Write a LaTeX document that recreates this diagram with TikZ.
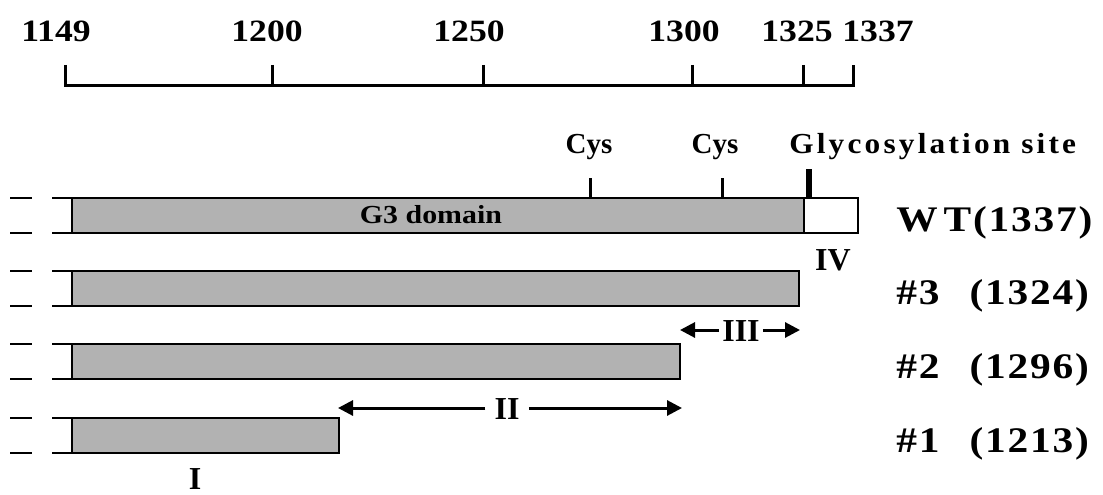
\documentclass[tikz,border=0pt]{standalone}
\usepackage{fontspec}
\setmainfont{Liberation Serif}
\newfontfamily\stretchfont{Liberation Serif}[FakeStretch=1.15]
\newfontfamily\trackfont{Liberation Serif}[FakeStretch=1.15,LetterSpace=5]
\newfontfamily\glycfont{Liberation Serif}[FakeStretch=1.08,LetterSpace=11]
\usetikzlibrary{arrows.meta}
\definecolor{barfill}{RGB}{178,178,178}
\begin{document}
\begin{tikzpicture}[x=1pt,y=-1pt,line width=2.6pt,
  toplbl/.style={font=\fontsize{31}{31}\selectfont\bfseries\stretchfont,anchor=base,inner sep=0pt},
  cyslbl/.style={font=\fontsize{29}{29}\selectfont\bfseries,anchor=base,inner sep=0pt},
  glyclbl/.style={font=\fontsize{29}{29}\selectfont\bfseries\glycfont,anchor=base west,inner sep=0pt},
  domlbl/.style={font=\fontsize{26}{26}\selectfont\bfseries\stretchfont,anchor=base,inner sep=0pt},
  rightlbl/.style={font=\fontsize{36}{36}\selectfont\bfseries\trackfont,anchor=base west,inner sep=0pt},
  romlbl/.style={font=\fontsize{32}{32}\selectfont\bfseries,anchor=base,inner sep=0pt},
  bar/.style={draw=black,fill=barfill},
  tail/.style={draw=black},
  dashmark/.style={draw=black},
  arr/.style={line width=3pt,-{Triangle[length=15pt,width=15pt]}}]
\useasboundingbox (0,0) rectangle (1103,495);
% scale
\draw[line width=3pt] (65,65) -- (65,85) -- (853,85) -- (853,65);
\foreach \x in {272,483,692,803} \draw[line width=3pt] (\x,65) -- (\x,85);
\node[toplbl] (l1149) at (56,42) {1149};
\node[toplbl] (l1200) at (267,42) {1200};
\node[toplbl] (l1250) at (469,42) {1250};
\node[toplbl] (l1300) at (684,42) {1300};
\node[toplbl] (l1325) at (797,42) {1325};
\node[toplbl] (l1337) at (878,42) {1337};
% site labels and ticks
\node[cyslbl] (cys1) at (589,153) {Cys};
\node[cyslbl] (cys2) at (715,153) {Cys};
\node[glyclbl] (glyc) at (788,153) {Glycosylation site};
\draw[line width=3pt] (590,178) -- (590,198);
\draw[line width=3pt] (722,178) -- (722,198);
\draw[line width=6pt] (809,169) -- (809,198);
% bars
\foreach \t/\b/\r in {198/233/804, 271/306/799, 344/379/680, 418/453/339}{
  \draw[dashmark] (10,\t) -- (32,\t);
  \draw[dashmark] (10,\b) -- (32,\b);
  \draw[tail] (52,\t) -- (72,\t);
  \draw[tail] (52,\b) -- (72,\b);
  \draw[bar] (72,\t) rectangle (\r,\b);
}
\draw[draw=black,fill=white] (804,198) rectangle (858,233);
\node[domlbl] (g3) at (431,223) {G3 domain};
% right labels
\node[rightlbl] (wt) at (895,231) {W\hspace{6pt}T(1337)};
\node[rightlbl] (m3) at (895,304) {\#3\hspace{30pt}(1324)};
\node[rightlbl] (m2) at (895,378) {\#2\hspace{30pt}(1296)};
\node[rightlbl] (m1) at (895,452) {\#1\hspace{30pt}(1213)};
% roman numerals and arrows
\node[romlbl] (r4) at (833,270) {IV};
\node[romlbl] (r1) at (195,489) {I};
\node[romlbl,inner xsep=2pt] (r3) at (741,341) {III};
\coordinate (r3l) at (680,330);
\coordinate (r3r) at (800,330);
\draw[arr] (r3.west |- r3l) -- (r3l);
\draw[arr] (r3.east |- r3r) -- (r3r);
\node[romlbl,inner xsep=8pt] (r2) at (507,419) {II};
\coordinate (r2l) at (338,408);
\coordinate (r2r) at (682,408);
\draw[arr] (r2.west |- r2l) -- (r2l);
\draw[arr] (r2.east |- r2r) -- (r2r);
\end{tikzpicture}
\end{document}
